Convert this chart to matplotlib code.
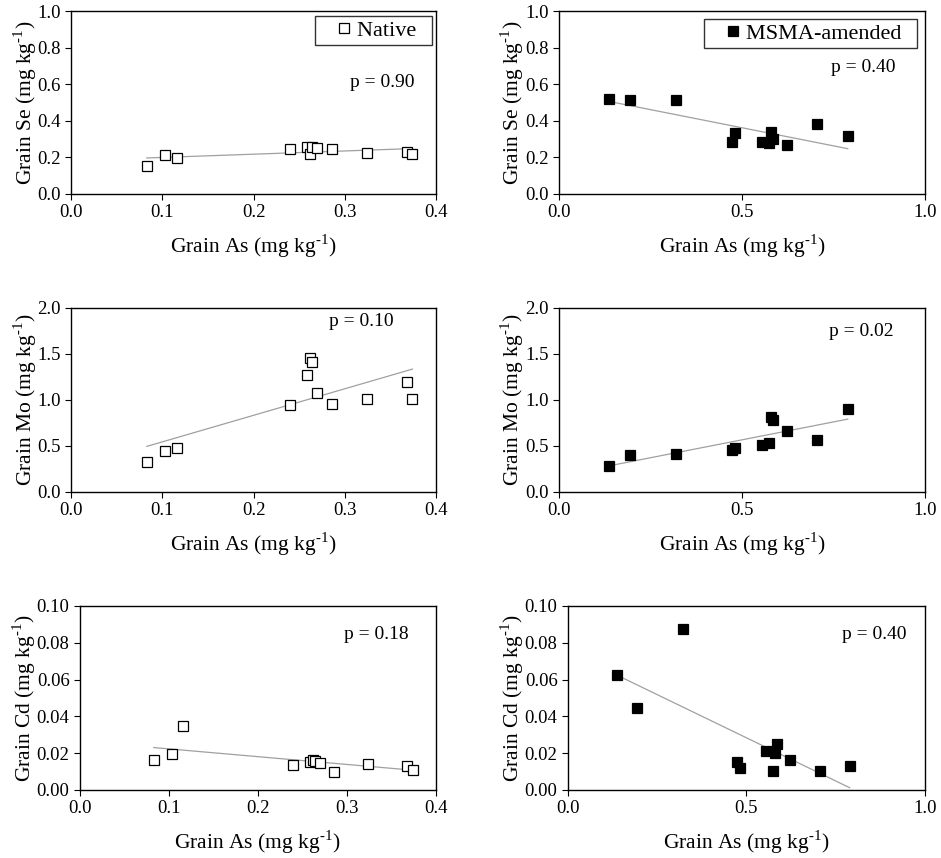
import numpy as np
import matplotlib
matplotlib.use("Agg")
import matplotlib.pyplot as plt
from matplotlib.ticker import FormatStrFormatter

plt.rcParams["font.family"] = ["Liberation Serif", "DejaVu Serif"]
plt.rcParams["mathtext.fontset"] = "custom"
plt.rcParams["mathtext.rm"] = "Liberation Serif"

# ── Data ─────────────────────────────────────────────────────────────────────
native_as = [0.083, 0.103, 0.116, 0.240, 0.259, 0.262, 0.264, 0.270, 0.286, 0.324, 0.368, 0.374]
native_se = [0.155, 0.213, 0.195, 0.246, 0.258, 0.218, 0.255, 0.252, 0.244, 0.224, 0.227, 0.218]
native_mo = [0.326, 0.449, 0.478, 0.942, 1.272, 1.457, 1.413, 1.072, 0.960, 1.011, 1.192, 1.011]
native_cd = [0.0161, 0.0196, 0.0348, 0.0135, 0.0152, 0.0163, 0.0158, 0.0145, 0.0100, 0.0143, 0.0132, 0.0107]

msma_as = [0.137, 0.194, 0.321, 0.473, 0.481, 0.555, 0.574, 0.579, 0.585, 0.623, 0.706, 0.789]
msma_se = [0.522, 0.513, 0.516, 0.284, 0.335, 0.285, 0.276, 0.340, 0.300, 0.267, 0.382, 0.318]
msma_mo = [0.286, 0.399, 0.413, 0.455, 0.480, 0.511, 0.536, 0.812, 0.779, 0.667, 0.569, 0.906]
msma_cd = [0.0625, 0.0447, 0.0875, 0.0154, 0.0118, 0.0212, 0.0105, 0.0200, 0.0250, 0.0163, 0.0103, 0.0132]

p_native = ["0.90", "0.10", "0.18"]
p_msma = ["0.40", "0.02", "0.40"]

elements = ["Se", "Mo", "Cd"]
y_limits = [(0, 1.0), (0, 2.0), (0, 0.10)]
y_steps = [0.2, 0.5, 0.02]
y_formats = ["%.1f", "%.1f", "%.2f"]

# axes rectangles in figure fractions [left, bottom, width, height]
rects = {
    (0, 0): [0.0755, 0.774, 0.388, 0.213],
    (0, 1): [0.594, 0.774, 0.389, 0.213],
    (1, 0): [0.0755, 0.4266, 0.388, 0.2145],
    (1, 1): [0.594, 0.4266, 0.389, 0.2145],
    (2, 0): [0.085, 0.0793, 0.378, 0.2145],
    (2, 1): [0.6036, 0.0793, 0.3794, 0.2145],
}
p_pos = {
    (0, 0): (0.852, 0.612), (0, 1): (0.83, 0.69),
    (1, 0): (0.795, 0.926), (1, 1): (0.825, 0.871),
    (2, 0): (0.833, 0.842), (2, 1): (0.857, 0.842),
}

HY = "\u2010"  # plain hyphen in the superscript, as in the original
unit = r"(mg kg$^{%s1}$)" % HY

fig = plt.figure(figsize=(9.41, 8.58), dpi=100)

native_y = [native_se, native_mo, native_cd]
msma_y = [msma_se, msma_mo, msma_cd]

for row in range(3):
    for col in range(2):
        ax = fig.add_axes(rects[(row, col)])
        if col == 0:
            x, y = np.array(native_as), np.array(native_y[row])
            mfc, label, p = "white", "Native", p_native[row]
            ax.set_xlim(0, 0.4)
            ax.set_xticks(np.arange(0, 0.41, 0.1))
        else:
            x, y = np.array(msma_as), np.array(msma_y[row])
            mfc, label, p = "black", "MSMA-amended", p_msma[row]
            ax.set_xlim(0, 1.0)
            ax.set_xticks([0, 0.5, 1.0])

        # least-squares trend line over the data range
        slope, icpt = np.polyfit(x, y, 1)
        xs = np.array([x.min(), x.max()])
        ax.plot(xs, slope * xs + icpt, color="#a0a0a0", lw=0.9, zorder=1)
        # trailing en space gives the legend box its right-hand padding
        ax.plot(x, y, ls="none", marker="s", ms=7.5, mfc=mfc, mec="black",
                mew=0.9, label=label + "\u2002", zorder=3)

        lo, hi = y_limits[row]
        ax.set_ylim(lo, hi)
        ax.set_yticks(np.arange(lo, hi + y_steps[row] / 2, y_steps[row]))
        ax.yaxis.set_major_formatter(FormatStrFormatter(y_formats[row]))
        ax.xaxis.set_major_formatter(FormatStrFormatter("%.1f"))
        ax.tick_params(direction="out", length=4, width=0.8, labelsize=13.5,
                       colors="black")
        for s in ax.spines.values():
            s.set_linewidth(1.0)

        ax.set_xlabel("Grain As " + unit, fontsize=15.5, labelpad=8)
        ax.set_ylabel("Grain %s " % elements[row] + unit, fontsize=15.5,
                      labelpad=-1)
        px, py = p_pos[(row, col)]
        ax.text(px, py, "p = " + p, transform=ax.transAxes, ha="center",
                va="center", fontsize=14)

        if row == 0:
            leg = ax.legend(loc="upper right", fontsize=16, frameon=True,
                            fancybox=False, handletextpad=-0.5,
                            borderaxespad=0.2 if col == 0 else 0.35,
                            handlelength=2.2, borderpad=0.2)
            leg.get_frame().set_edgecolor("black")
            leg.get_frame().set_linewidth(1.0)

plt.savefig("out.png", dpi=100)
plt.close()
